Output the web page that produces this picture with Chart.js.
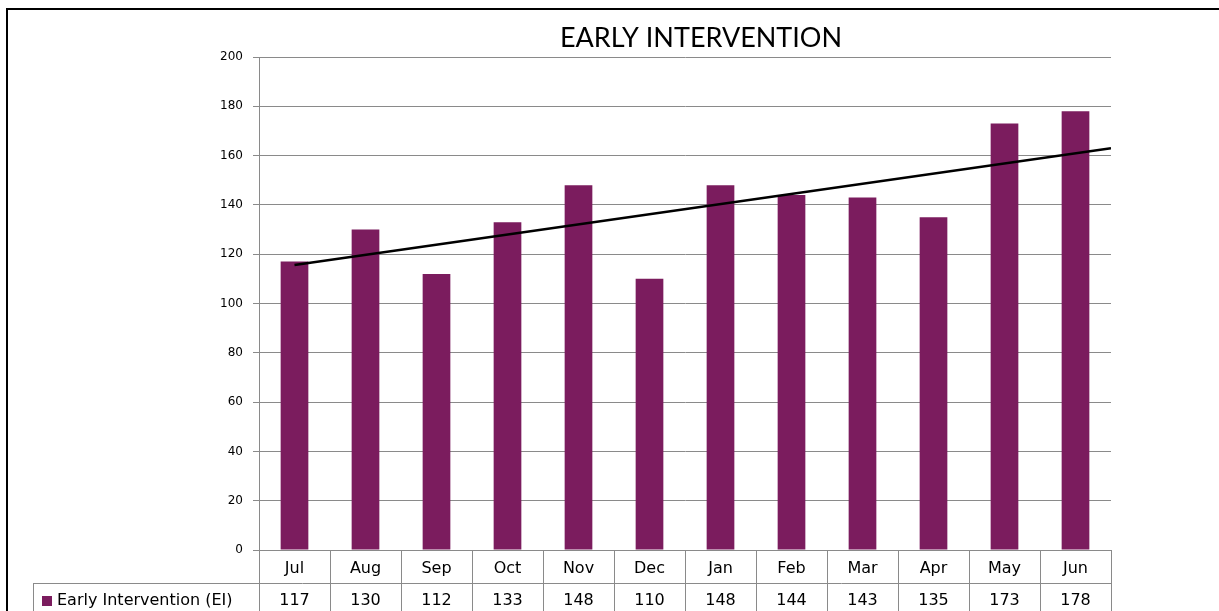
<!DOCTYPE html>
<html>
<head>
<meta charset="utf-8">
<title>Early Intervention</title>
<script src="https://cdn.jsdelivr.net/npm/chart.js@4.4.1/dist/chart.umd.min.js"></script>
<style>
  html, body { margin: 0; padding: 0; background: #fff; }
  #wrap { width: 1219px; height: 611px; position: relative; }
</style>
</head>
<body>
<div id="wrap"><canvas id="eiChart"></canvas></div>
<script>
// -----------------------
// Data
// -----------------------
const months = ['Jul', 'Aug', 'Sep', 'Oct', 'Nov', 'Dec', 'Jan', 'Feb', 'Mar', 'Apr', 'May', 'Jun'];
const eiValues = [117, 130, 112, 133, 148, 110, 148, 144, 143, 135, 173, 178];
const seriesName = 'Early Intervention (EI)';
const chartTitle = 'EARLY INTERVENTION';

// trend line end points (position on month axis, value), as drawn in the picture
const trendPos = [1, 12.5];
const trendVals = [115.6, 163];

const BAR_COLOR = '#7b1c5e';
const GRID = '#8a8a8a';
const tableFont = '16px "DejaVu Sans", sans-serif';

// -----------------------
// Plugin: frame, title, data table below the axis
// -----------------------
const tablePlugin = {
  id: 'tablePlugin',
  afterDraw(chart) {
    const { ctx, chartArea: a, scales: { x } } = chart;
    const colW = (a.right - a.left) / months.length;
    const rowMid = a.bottom + 33;
    const rowBot = chart.height + 5;

    ctx.save();

    // title
    ctx.fillStyle = '#000';
    ctx.font = '27px Lato, "Open Sans", sans-serif';
    ctx.textAlign = 'center';
    ctx.textBaseline = 'middle';
    ctx.fillText(chartTitle, 701, 38);

    // table grid
    ctx.strokeStyle = GRID;
    ctx.lineWidth = 1;
    ctx.beginPath();
    ctx.moveTo(33, rowMid + 0.5);
    ctx.lineTo(a.right, rowMid + 0.5);
    for (let i = 0; i <= months.length; i++) {
      const px = Math.round(a.left + i * colW) + 0.5;
      ctx.moveTo(px, a.bottom);
      ctx.lineTo(px, rowBot);
    }
    ctx.moveTo(33.5, rowMid);
    ctx.lineTo(33.5, rowBot);
    ctx.stroke();

    // values row
    ctx.font = tableFont;
    ctx.fillStyle = '#000';
    eiValues.forEach((v, i) => {
      ctx.fillText(String(v), x.getPixelForValue(i), rowMid + 18);
    });

    // legend key + series name
    ctx.fillStyle = BAR_COLOR;
    ctx.fillRect(42, 596, 10, 10);
    ctx.fillStyle = '#000';
    ctx.textAlign = 'left';
    ctx.fillText(seriesName, 57, rowMid + 18);

    // outer frame
    ctx.strokeStyle = '#000';
    ctx.lineWidth = 2;
    ctx.strokeRect(7, 9, 1400, 800);

    ctx.restore();
  }
};

// -----------------------
// Chart
// -----------------------
const ctx = document.getElementById('eiChart').getContext('2d');
new Chart(ctx, {
  type: 'bar',
  data: {
    labels: months,
    datasets: [
      {
        type: 'bar',
        label: seriesName,
        data: eiValues,
        xAxisID: 'x',
        backgroundColor: BAR_COLOR,
        borderWidth: 0,
        grouped: false,
        barPercentage: 0.39,
        categoryPercentage: 1,
        order: 2
      },
      {
        type: 'line',
        label: 'Trend',
        data: trendPos.map((p, i) => ({ x: p, y: trendVals[i] })),
        xAxisID: 'xt',
        borderColor: '#000',
        borderWidth: 2.5,
        pointRadius: 0,
        order: 1
      }
    ]
  },
  options: {
    responsive: true,
    maintainAspectRatio: false,
    animation: false,
    layout: { padding: { top: 57, right: 108, bottom: 0, left: 0 } },
    plugins: {
      legend: { display: false },
      title: { display: false },
      tooltip: { enabled: false }
    },
    scales: {
      x: {
        type: 'category',
        grid: { display: false },
        border: { display: false },
        ticks: {
          color: '#000',
          font: { family: '"DejaVu Sans", sans-serif', size: 16 },
          padding: 1,
          maxRotation: 0,
          autoSkip: false
        },
        afterFit: s => { s.height = 61; }
      },
      xt: {
        type: 'linear',
        display: false,
        offset: false,
        grid: { offset: false },
        min: 0.5,
        max: 12.5
      },
      y: {
        min: 0,
        max: 200,
        ticks: {
          stepSize: 20,
          color: '#000',
          font: { family: '"DejaVu Sans", sans-serif', size: 12 },
          padding: 10
        },
        grid: { color: GRID, lineWidth: 1, tickLength: 6, tickColor: GRID },
        border: { display: true, color: GRID, width: 1 },
        afterFit: s => { s.width = 259; }
      }
    }
  },
  plugins: [tablePlugin]
});
</script>
</body>
</html>
